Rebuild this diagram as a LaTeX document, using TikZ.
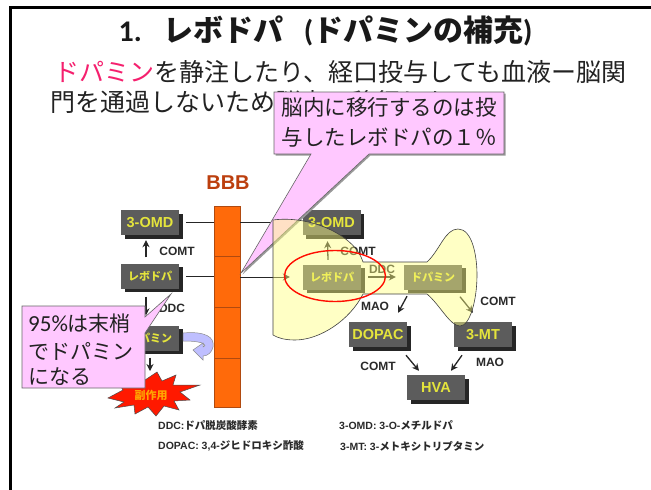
\documentclass[tikz,border=0pt]{standalone}
\usepackage{fontspec}
\setmainfont{Liberation Sans}
\newfontfamily\cjk{Noto Sans CJK JP}
\newfontfamily\lat{Carlito}
\usetikzlibrary{arrows.meta,shadows,shapes.geometric}
\definecolor{boxgray}{HTML}{5C5C5C}
\definecolor{boxtext}{HTML}{E4E43C}
\definecolor{barorange}{HTML}{FF6A0A}
\definecolor{barline}{HTML}{B04A10}
\definecolor{pinkfill}{HTML}{FFC8FF}
\definecolor{blobfill}{HTML}{FFFF80}
\definecolor{bodyink}{HTML}{222222}
\definecolor{magentaink}{HTML}{F5206E}
\definecolor{labelink}{HTML}{2A2A2A}
\tikzset{
  chem/.style={fill=boxgray,text=boxtext,font=\bfseries\fontsize{14.5}{16}\selectfont,inner sep=0pt,
    minimum width=58pt,minimum height=25pt,
    drop shadow={shadow xshift=3.5pt,shadow yshift=-3.5pt,fill=black!85,opacity=1}},
  kana/.style={font=\cjk\bfseries\fontsize{11}{12}\selectfont},
  barseg/.style={fill=barorange,draw=barline,line width=.8pt,inner sep=0pt,minimum width=26pt},
  enzyme/.style={text=labelink,font=\bfseries\fontsize{12}{14}\selectfont,inner sep=0pt},
  legend/.style={text=labelink,font=\bfseries\fontsize{10.5}{12}\selectfont,inner sep=0pt,anchor=west},
  flow/.style={draw=black!85,line width=1.3pt,-{Stealth[length=7pt,width=7pt]}},
  wire/.style={draw=black!85,line width=1pt},
  callout/.style={fill=pinkfill,draw=black!60,line width=.6pt},
  calltext/.style={text=bodyink,inner sep=0pt,font=\cjk\fontsize{21.5}{25}\selectfont},
  bodyline/.style={text=bodyink,inner sep=0pt,anchor=west,font=\cjk\fontsize{25}{28}\selectfont},
}
\begin{document}
\begin{tikzpicture}[x=1pt,y=-1pt]
\useasboundingbox (0,0) rectangle (651,490);
\fill[white] (0,0) rectangle (651,490);
\draw[black,line width=3pt] (10.7,490) -- (10.7,7.5) -- (651,7.5);

\node[inner sep=0pt,text=black!90] (title) at (325.5,31)
  {\lat\bfseries\fontsize{30}{32}\selectfont 1.\hspace{22pt}{\cjk\bfseries レボドパ}\hspace{20pt}({\cjk\bfseries ドパミンの補充})};
\node[bodyline] (line1) at (54,72) {\textcolor{magentaink}{ドパミン}を静注したり、経口投与しても血液ー脳関};
\node[bodyline] (line2) at (50,102) {門を通過しないため脳内に移行しない};

% barrier
\node[text=barline!85!red,font=\bfseries\fontsize{20}{22}\selectfont,inner sep=0pt] (bbb) at (228,183) {BBB};
\node[barseg,minimum height=50pt] (bar1) at (227,231) {};
\node[barseg,minimum height=51pt] (bar2) at (227,281.5) {};
\node[barseg,minimum height=51pt] (bar3) at (227,332.5) {};
\node[barseg,minimum height=49pt] (bar4) at (227,382.5) {};

% left side
\node[chem] (lomd) at (150,222.5) {3-OMD};
\node[chem,kana] (llev) at (150,276) {レボドパ};
\node[chem,kana] (ldop) at (150,338) {ドパミン};
\node[enzyme] (lcomt) at (177,251) {COMT};
\node[enzyme] (lddc) at (172,308) {DDC};
\draw[flow] ([xshift=-4pt,yshift=6pt]llev.north) -- ([xshift=-4pt,yshift=-5pt]lomd.south);
\draw[flow] ([xshift=-4pt,yshift=-8pt]llev.south) -- ([xshift=-4pt,yshift=10pt]ldop.north);
\draw[wire] ([xshift=7pt]lomd.east) -- (bar1.west |- lomd.east);
\draw[wire] ([xshift=7pt]llev.east) -- (bar2.west |- llev.east);

% recycling arrow
\draw[fill=blue!25!white,draw=black!45,line width=.5pt]
  (183,333) .. controls (205,331) and (215,337) .. (213,347)
  .. controls (212,352) and (208,356) .. (203,356) -- (203,360) -- (193,350) -- (203,343) -- (203,347)
  .. controls (207,346) and (207,341) .. (183,341) -- cycle;

% burst
\path[fill=red!80!orange,draw=black!70,line width=.5pt]
  (108,398) -- (123,390) -- (118,382) -- (133,384) -- (137,372) -- (145,380) -- (157,372) -- (162,381) -- (176,375)
  -- (173,385) -- (200,385) -- (180,392) -- (190,400) -- (174,401) -- (179,410) -- (164,406)
  -- (156,416) -- (148,407) -- (135,414) -- (134,405) -- (115,408) -- (124,402) -- cycle;
\coordinate (burst) at (150,371);
\node[text=orange!70!yellow,font=\cjk\bfseries\fontsize{11}{12}\selectfont,inner sep=0pt] (side) at (151,395) {副作用};
\draw[flow] ([yshift=-7pt]ldop.south) -- (burst);

% right side
\node[chem] (romd) at (331.5,222.5) {3-OMD};
\node[chem,kana] (rlev) at (332,277) {レボドパ};
\node[chem,kana] (rdop) at (433,277) {ドパミン};
\node[chem] (dopac) at (378,334.5) {DOPAC};
\node[chem] (mt) at (483,334.5) {3-MT};
\node[chem] (hva) at (436,387.5) {HVA};
\node[enzyme] (rcomt) at (358,251) {COMT};
\node[enzyme] (rddc) at (382,269) {DDC};
\node[enzyme] (rmao) at (375,306) {MAO};
\node[enzyme] (rcomt2) at (498,301) {COMT};
\node[enzyme] (lcomt3) at (378,366) {COMT};
\node[enzyme] (lmao3) at (490,362) {MAO};
\coordinate (barout1) at (274,222.5);
\draw[wire] (bar1.east |- romd.west) -- (barout1);
\draw[wire,-{Stealth[length=7pt,width=7pt]}] (bar2.east |- rlev.west) -- ([xshift=-13pt]rlev.west);
\draw[flow] ([xshift=-4pt,yshift=4.5pt]rlev.north) -- ([xshift=-4pt,yshift=-6pt]romd.south);
\draw[flow] ([xshift=7pt]rlev.east) -- ([xshift=-8pt]rdop.west);
\draw[flow] ([xshift=-26pt,yshift=-6.5pt]rdop.south) -- ([xshift=20pt,yshift=9pt]dopac.north);
\draw[flow] ([xshift=27pt,yshift=-7pt]rdop.south) -- ([xshift=-10pt,yshift=9pt]mt.north);
\draw[flow] ([xshift=28pt,yshift=-8pt]dopac.south) -- ([xshift=-17pt,yshift=4pt]hva.north);
\draw[flow] ([xshift=-21pt,yshift=-8pt]mt.south) -- ([xshift=15pt,yshift=4pt]hva.north);

% legend
\node[legend] (lg1) at (158,425) {DDC:{\cjk ドパ脱炭酸酵素}};
\node[legend] (lg2) at (158,446) {DOPAC: 3,4-{\cjk ジヒドロキシ酢酸}};
\node[legend] (lg3) at (339,425) {3-OMD: 3-O-{\cjk メチルドパ}};
\node[legend] (lg4) at (340,446) {3-MT: 3-{\cjk メトキシトリプタミン}};

% top callout
\path[callout,drop shadow={shadow xshift=1.5pt,shadow yshift=-1.5pt,fill=black!40,opacity=1}]
  (274,92) -- (504,92) -- (504,154) -- (369,154) -- (241,273) -- (311,154) -- (274,154) -- cycle;
\node[calltext] (ct1) at (389,107) {脳内に移行するのは投};
\node[calltext] (ct2) at (389,137) {与したレボドパの１％};

% highlighted region
\path[draw=black!75,line width=.6pt,fill=blobfill,fill opacity=.45]
  (273,220) .. controls (310,215) and (355,235) .. (363,262) -- (427,262)
  .. controls (440,250) and (445,229) .. (458,229) .. controls (472,229) and (477,255) .. (477,275)
  .. controls (477,300) and (470,326) .. (460,326) .. controls (450,326) and (440,305) .. (427,294)
  -- (363,294) .. controls (350,320) and (320,340) .. (295,340)
  .. controls (285,340) and (278,338) .. (273,335) -- cycle;
\node[draw=red!90!orange,line width=1.4pt,ellipse,minimum width=101pt,minimum height=51pt,inner sep=0pt] (ring) at (335,276) {};

% left callout
\path[callout] (22,306) -- (145,306) -- (145,317) -- (171,294) -- (145,333) -- (145,388) -- (22,388) -- cycle;
\node[text=bodyink,inner sep=0pt,anchor=west,font=\cjk\fontsize{21}{25}\selectfont] (cl1) at (28,324) {{\lat\fontsize{23}{25}\selectfont 95\%}は末梢};
\node[text=bodyink,inner sep=0pt,anchor=west,font=\cjk\fontsize{21}{25}\selectfont] (cl2) at (28,351) {でドパミン};
\node[text=bodyink,inner sep=0pt,anchor=west,font=\cjk\fontsize{21}{25}\selectfont] (cl3) at (28,377) {になる};
\end{tikzpicture}
\end{document}
